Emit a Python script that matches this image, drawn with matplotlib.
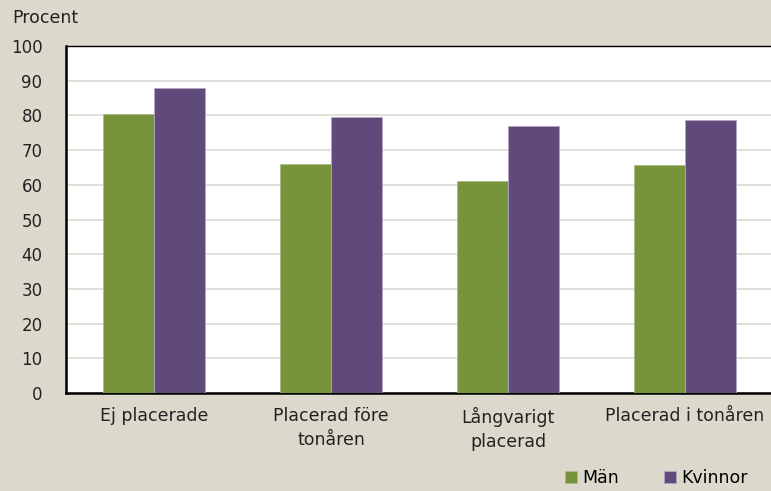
import numpy as np
import matplotlib.pyplot as plt

categories = ['Ej placerade', 'Placerad före\ntonåren', 'Långvarigt\nplacerad', 'Placerad i tonåren']
man = [80.3, 66.0, 61.2, 65.8]
kvinnor = [87.9, 79.6, 76.9, 78.7]
yticks = [0, 10, 20, 30, 40, 50, 60, 70, 80, 90, 100]

bg = '#dcd9cc'
green = '#77933c'
purple = '#604a7b'

plt.rcParams['font.family'] = ['DejaVu Sans']

fig = plt.figure(figsize=(7.71, 4.91), dpi=100, facecolor=bg)
ax = fig.add_axes([0.0856, 0.1996, 0.9174, 0.7067])
ax.set_facecolor('white')

x = np.arange(len(categories))
w = 0.288
ax.bar(x - w / 2, man, w, color=green, edgecolor='#a9bd86', linewidth=0.6, label='Män', zorder=3)
ax.bar(x + w / 2, kvinnor, w, color=purple, edgecolor='#b3a6c4', linewidth=0.6, label='Kvinnor', zorder=3)

ax.set_xlim(-0.5, len(categories) - 0.5)
ax.set_ylim(0, 100)
ax.set_yticks(yticks)
ax.yaxis.grid(True, color='#e0e0d8', linewidth=1.4, zorder=0)
ax.set_axisbelow(True)

ax.set_xticks(x)
ax.set_xticklabels(categories, fontsize=12.5, color='#222222', linespacing=1.45)
ax.tick_params(axis='x', length=0, pad=10)
ax.tick_params(axis='y', length=0, pad=17, labelsize=12, labelcolor='#222222')

for side in ['left', 'bottom']:
    ax.spines[side].set_linewidth(1.8)
    ax.spines[side].set_color('black')
ax.spines['top'].set_linewidth(1.0)
ax.spines['right'].set_visible(False)

fig.text(0.016, 0.963, 'Procent', fontsize=12.5, color='#222222', va='center', ha='left')

fig.legend(loc='lower right', bbox_to_anchor=(0.99, -0.024), ncol=2, frameon=False,
           fontsize=12.5, handlelength=0.7, handleheight=0.7, handletextpad=0.3,
           columnspacing=2.6)

fig.savefig('out.png', dpi=100, facecolor=bg)
